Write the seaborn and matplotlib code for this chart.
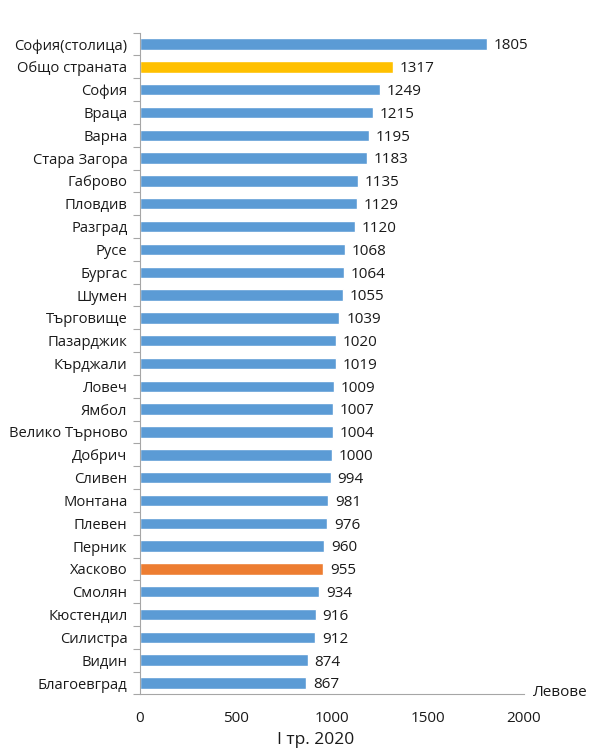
import matplotlib
matplotlib.use("Agg")
import matplotlib.pyplot as plt
import seaborn as sns
import pandas as pd
import numpy as np
from matplotlib.ticker import FixedLocator

regions = ["София(столица)", "Общо страната", "София", "Враца", "Варна", "Стара Загора",
           "Габрово", "Пловдив", "Разград", "Русе", "Бургас", "Шумен", "Търговище",
           "Пазарджик", "Кърджали", "Ловеч", "Ямбол", "Велико Търново", "Добрич",
           "Сливен", "Монтана", "Плевен", "Перник", "Хасково", "Смолян", "Кюстендил",
           "Силистра", "Видин", "Благоевград"]
values = [1805, 1317, 1249, 1215, 1195, 1183, 1135, 1129, 1120, 1068, 1064, 1055, 1039,
          1020, 1019, 1009, 1007, 1004, 1000, 994, 981, 976, 960, 955, 934, 916, 912, 874, 867]
groups = ["region"] * len(regions)
groups[1] = "country"
groups[23] = "highlight"
palette = {"region": "#5B9BD5", "country": "#FFC000", "highlight": "#ED7D31"}
x_ticks = [0, 500, 1000, 1500, 2000]
unit_label = "Левове"
x_title = "I тр. 2020"

sns.set_theme(style="white")
plt.rcParams['font.family'] = ['Open Sans', 'DejaVu Sans']

df = pd.DataFrame({"region": regions, "value": values, "group": groups})

fig = plt.figure(figsize=(5.93, 7.5), dpi=100)
ax = fig.add_axes([0.236, 0.0741, 0.6476, 0.8824])
sns.barplot(data=df, x="value", y="region", hue="group", palette=palette, dodge=False,
            legend=False, width=0.5, ax=ax, saturation=1)

for i, v in enumerate(values):
    ax.text(v + 35, i + 0.08, str(v), va="center", ha="left", fontsize=11, color="#1a1a1a")

ax.set_xlim(0, 2000)
ax.set_ylim(len(regions) - 0.5, -0.5)
ax.set_xticks(x_ticks)
ax.set_xticklabels([str(t) for t in x_ticks], fontsize=11, color="#1a1a1a")
ax.tick_params(axis="x", length=5, width=0.8, color="#A6A6A6", direction="out", pad=7)
ax.tick_params(axis="y", which="major", length=0, labelsize=10.6, labelcolor="#1a1a1a", pad=9)
ax.yaxis.set_minor_locator(FixedLocator(np.arange(-0.5, len(regions), 1.0)))
ax.tick_params(axis="y", which="minor", length=5, width=0.8, color="#A6A6A6", direction="out", left=True)
ax.set_xlabel("")
ax.set_ylabel("")
for s in ["top", "right"]:
    ax.spines[s].set_visible(False)
for s in ["left", "bottom"]:
    ax.spines[s].set_color("#A6A6A6")
    ax.spines[s].set_linewidth(0.8)

fig.text(533 / 593, 1 - 692 / 750, unit_label, fontsize=11, ha="left", va="center", color="#1a1a1a")
fig.text(316 / 593, 1 - 740 / 750, x_title, fontsize=12.5, ha="center", va="center", color="#1a1a1a")

fig.savefig("out.png", dpi=100)
